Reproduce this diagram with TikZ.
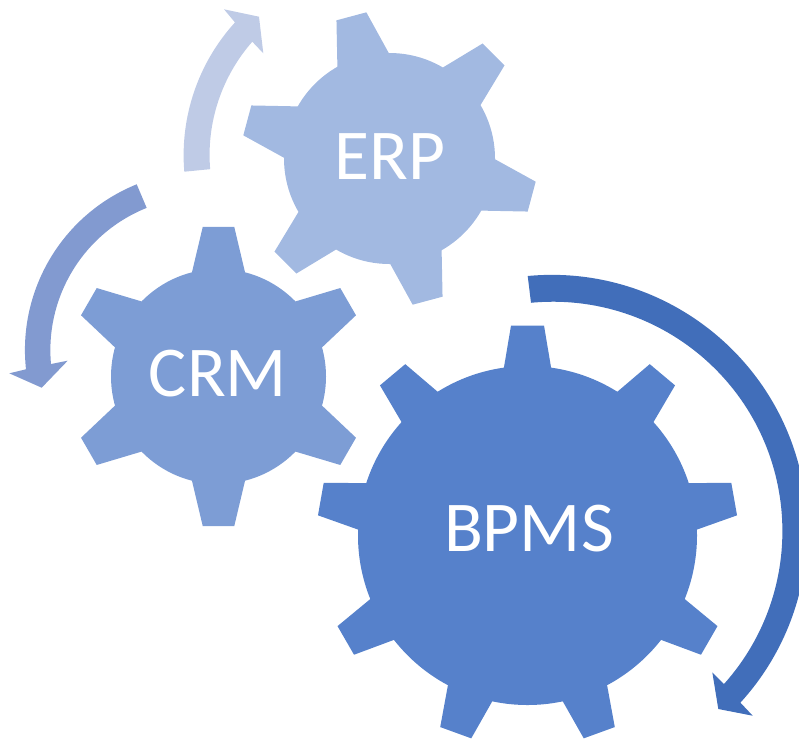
\documentclass[tikz,border=0pt]{standalone}
\usepackage{fontspec}
\setmainfont{Carlito}
\definecolor{erpblue}{HTML}{A2B9E1}
\definecolor{crmblue}{HTML}{7D9DD5}
\definecolor{bpmsblue}{HTML}{5681CB}
\definecolor{lightarrow}{HTML}{BFCBE6}
\definecolor{midarrow}{HTML}{829AD0}
\definecolor{darkarrow}{HTML}{416EBA}
% center, last tooth, first angle, step, root radius, tip radius, root half angle, tip half angle, colour
\newcommand{\drawgear}[9]{
\fill[#9] (#1) circle (#5);
\foreach \t in {0,...,#2} {
\pgfmathsetmacro{\ang}{#3+\t*#4}
\fill[#9] (#1) -- ([shift={(#1)}] \ang-#7:#5) -- ([shift={(#1)}] \ang-#8:#6)
 -- ([shift={(#1)}] \ang+#8:#6) -- ([shift={(#1)}] \ang+#7:#5) -- cycle;
}
}
\begin{document}
\begin{tikzpicture}[x=1pt,y=-1pt,
 gearlabel/.style = {text=white, font=\fontsize{71.5}{86}\selectfont, inner sep=0pt}]
\clip (0,0) rectangle (799,740);
\coordinate (erp) at (389.5,158.5);
\coordinate (crm) at (218.5,376.5);
\coordinate (bpms) at (527.5,535.5);
\drawgear{erp}{5}{-105}{60}{105.5}{148}{14.6}{6}{erpblue}
\drawgear{crm}{5}{-90}{60}{107.5}{150.5}{14.3}{6}{crmblue}
\drawgear{bpms}{8}{-10}{40}{169.5}{210.5}{8}{4.5}{bpmsblue}
\node[gearlabel] (erplabel) at (390,157) {ERP};
\node[gearlabel] (crmlabel) at (218,374) {CRM};
\node[gearlabel] (bpmslabel) at (529,529) {BPMS};
% arrows
\fill[lightarrow] (184.3,171.7) arc[start angle=175.2, end angle=222.3, radius=197.3]
 -- (224,9.3) -- (259,16.7) -- (263.3,53.3) -- (252.3,41.7)
 arc[start angle=221.3, end angle=175.3, radius=171.8] -- cycle;
\fill[midarrow] (136.7,184.3) arc[start angle=248, end angle=173.8, radius=178.7]
 -- (9.3,373.3) -- (41.7,387.7) -- (67.7,360.7) -- (51,364)
 arc[start angle=174.8, end angle=248.2, radius=153.2] -- cycle;
\fill[darkarrow] (527.7,276) arc[start angle=-95.4, end angle=42.4, radius=255.5]
 -- (752.7,715.7) -- (718.3,709) -- (712.3,672.3) -- (724,684)
 arc[start angle=41.8, end angle=-95.5, radius=229.4] -- cycle;
\end{tikzpicture}
\end{document}
